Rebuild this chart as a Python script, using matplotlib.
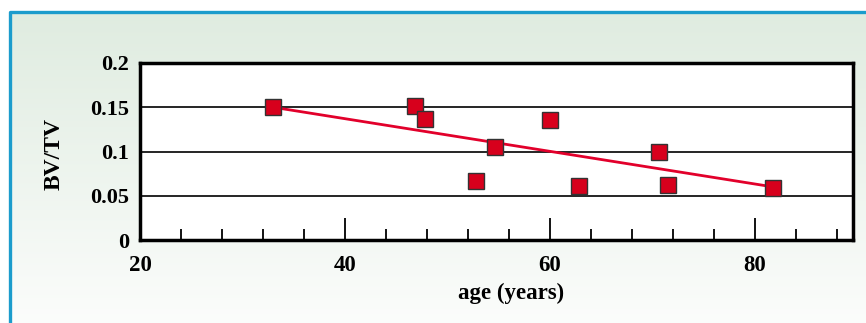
import numpy as np
import matplotlib
matplotlib.use("Agg")
import matplotlib.pyplot as plt
from matplotlib.ticker import MultipleLocator
from matplotlib.patches import Rectangle
from matplotlib.font_manager import FontProperties

# Data
age = [33, 46.8, 47.8, 52.8, 54.7, 60.0, 62.9, 70.7, 71.5, 81.8]
bvtv = [0.150, 0.151, 0.137, 0.067, 0.105, 0.136, 0.061, 0.099, 0.062, 0.059]
trend_x = [33, 81.8]
trend_y = [0.150, 0.060]
x_ticks = [20, 40, 60, 80]
y_ticks = [0, 0.05, 0.1, 0.15, 0.2]
y_tick_labels = ["0", "0.05", "0.1", "0.15", "0.2"]

W, H, DPI = 866, 323, 100
fig = plt.figure(figsize=(W / DPI, H / DPI), dpi=DPI)

# Background gradient
bg = fig.add_axes([0, 0, 1, 1])
grad = np.linspace(0, 1, 256).reshape(-1, 1)
top = np.array([0.875, 0.925, 0.878])
bot = np.array([0.985, 0.99, 0.985])
img = top[None, None, :] * (1 - grad[:, :, None]) + bot[None, None, :] * grad[:, :, None]
bg.imshow(img, aspect="auto", extent=[0, W, 0, H - 11], origin="upper")
bg.set_xlim(0, W)
bg.set_ylim(0, H)
bg.add_patch(Rectangle((0, H - 11), W, 11, color="white", zorder=1))
bg.add_patch(Rectangle((0, 0), 9, H, color="white", zorder=1))
bg.plot([9.5, 9.5, W + 5], [-5, H - 11.5, H - 11.5], color="#1b9ccc", lw=2.4, zorder=2,
        solid_capstyle="butt")
bg.axis("off")

# Main axes
left, right, topp, bottom = 140, 853, 63, 240
ax = fig.add_axes([left / W, 1 - bottom / H, (right - left) / W, (bottom - topp) / H])
ax.set_xlim(20, 89.6)
ax.set_ylim(0, 0.2)
ax.set_facecolor("white")

for y in y_ticks[1:-1]:
    ax.axhline(y, color="black", lw=1.2, zorder=1)

ax.plot(trend_x, trend_y, color="#e2002b", lw=2.0, zorder=2)
ax.plot(age, bvtv, linestyle="none", marker="s", markersize=12,
        markerfacecolor="#d7001c", markeredgecolor="#333333", markeredgewidth=1.0, zorder=3)

for s in ax.spines.values():
    s.set_linewidth(2.5)
    s.set_color("black")

ax.set_xticks([40, 60, 80])
ax.xaxis.set_minor_locator(MultipleLocator(4))
ax.tick_params(axis="x", which="major", direction="in", length=16, width=1.3, labelbottom=False)
ax.tick_params(axis="x", which="minor", direction="in", length=8, width=1.3)
ax.set_yticks(y_ticks)
ax.set_yticklabels(y_tick_labels)
ax.tick_params(axis="y", length=0, pad=8)

font = dict(family="Liberation Serif", weight="bold")
for lab in ax.get_yticklabels():
    lab.set_fontproperties(FontProperties(family="Liberation Serif", weight="bold", size=16))

for xv in x_ticks:
    ax.text(xv, -0.029, str(xv), ha="center", va="center", fontsize=16.5,
            transform=ax.transData, **font)

fig.text(511 / W, 1 - 293 / H, "age (years)", ha="center", va="center", fontsize=16.5, **font)
fig.text(54 / W, 1 - 154 / H, "BV/TV", ha="center", va="center", rotation=90, fontsize=17, **font)

fig.savefig("out.png", dpi=DPI)
